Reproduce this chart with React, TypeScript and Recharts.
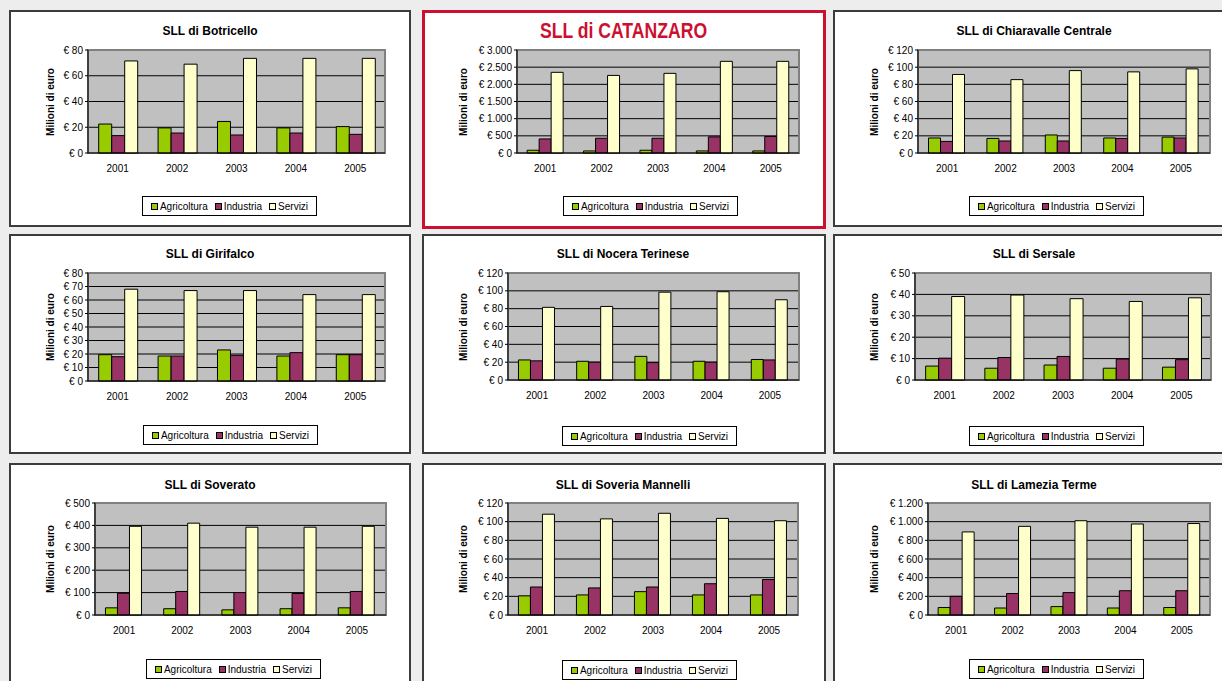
import { BarChart, Bar, XAxis, YAxis, CartesianGrid, ReferenceArea } from 'recharts';

const years = ['2001', '2002', '2003', '2004', '2005'];
const seriesNames = ['Agricoltura', 'Industria', 'Servizi'];
const seriesColors = ['#99cc00', '#993366', '#ffffcc'];

// Botricello
const botricelloAgri = [22.5, 19.5, 24.5, 19.5, 20.5];
const botricelloInd = [13.5, 15.5, 14, 15.5, 14.5];
const botricelloServ = [71.5, 69, 73.5, 73.5, 73.5];
const botricelloTicks = [0, 20, 40, 60, 80];

// Catanzaro
const catanzaroAgri = [80, 60, 80, 60, 60];
const catanzaroInd = [410, 430, 430, 470, 480];
const catanzaroServ = [2350, 2260, 2320, 2670, 2670];
const catanzaroTicks = [0, 500, 1000, 1500, 2000, 2500, 3000];

// Chiaravalle Centrale
const chiaravalleAgri = [17.5, 17, 21, 17.5, 18.5];
const chiaravalleInd = [13.5, 14, 14, 17, 17.5];
const chiaravalleServ = [91.5, 85.5, 96, 94.5, 98];
const chiaravalleTicks = [0, 20, 40, 60, 80, 100, 120];

// Girifalco
const girifalcoAgri = [19.5, 18.5, 23, 18.5, 19.5];
const girifalcoInd = [18, 18.5, 19, 21, 19.5];
const girifalcoServ = [68, 67, 67, 64, 64];
const girifalcoTicks = [0, 10, 20, 30, 40, 50, 60, 70, 80];

// Nocera Terinese
const noceraAgri = [22.5, 21, 26.5, 21, 23];
const noceraInd = [21.5, 20, 19.5, 20, 22.5];
const noceraServ = [81.5, 82.5, 98.5, 99, 90];
const noceraTicks = [0, 20, 40, 60, 80, 100, 120];

// Sersale
const sersaleAgri = [6.5, 5.5, 7, 5.5, 6];
const sersaleInd = [10.2, 10.5, 11, 9.8, 9.5];
const sersaleServ = [39, 39.7, 38, 36.7, 38.4];
const sersaleTicks = [0, 10, 20, 30, 40, 50];

// Soverato
const soveratoAgri = [32, 28, 23, 28, 32];
const soveratoInd = [97, 105, 100, 96, 105];
const soveratoServ = [396, 410, 392, 392, 396];
const soveratoTicks = [0, 100, 200, 300, 400, 500];

// Soveria Mannelli
const soveriaAgri = [20.5, 21.5, 25, 21.5, 21.5];
const soveriaInd = [30, 29, 30, 33.5, 38];
const soveriaServ = [108, 103, 109, 103.5, 101];
const soveriaTicks = [0, 20, 40, 60, 80, 100, 120];

// Lamezia Terme
const lameziaAgri = [80, 75, 90, 75, 80];
const lameziaInd = [200, 230, 240, 260, 260];
const lameziaServ = [890, 950, 1010, 975, 980];
const lameziaTicks = [0, 200, 400, 600, 800, 1000, 1200];

const FONT = "'Liberation Sans', Arial, sans-serif";
const RED = '#cc1030';

const formatEuro = (v: number) => '€ ' + String(v).replace(/\B(?=(\d{3})+(?!\d))/g, '.');

type PanelProps = {
    title: string;
    agri: number[];
    ind: number[];
    serv: number[];
    ticks: number[];
    x: number;
    y: number;
    w: number;
    h: number;
    plot: [number, number, number, number];
    legend: [number, number];
    titleY: number;
    highlight?: boolean;
};

function LegendBox({ left, top }: { left: number; top: number }) {
    return (
        <div
            style={{
                position: 'absolute',
                left,
                top,
                width: 175,
                height: 20,
                border: '1px solid #000',
                background: '#fff',
                boxSizing: 'border-box',
                display: 'flex',
                alignItems: 'center',
                justifyContent: 'center',
                gap: 7,
                fontSize: 10,
                color: '#000',
            }}
        >
            {seriesNames.map((name, i) => (
                <span key={name} style={{ display: 'flex', alignItems: 'center' }}>
                    <span
                        style={{
                            display: 'inline-block',
                            width: 5,
                            height: 5,
                            border: '1px solid #000',
                            background: seriesColors[i],
                            marginRight: 2,
                        }}
                    />
                    {name}
                </span>
            ))}
        </div>
    );
}

function Panel(p: PanelProps) {
    const data = years.map((year, i) => ({
        year,
        agri: p.agri[i],
        ind: p.ind[i],
        serv: p.serv[i],
    }));
    const [pl, pt, pr, pb] = p.plot;
    const yW = 50;
    const xH = 30;
    const max = p.ticks[p.ticks.length - 1];

    return (
        <div style={{ position: 'absolute', left: p.x, top: p.y, width: p.w, height: p.h }}>
            <div
                style={{
                    position: 'absolute',
                    inset: 0,
                    background: '#fff',
                    boxSizing: 'border-box',
                    border: p.highlight ? `3px solid ${RED}` : '2px solid #3c3c3c',
                }}
            />
            <div
                style={{
                    position: 'absolute',
                    left: 0,
                    width: 402,
                    top: p.titleY,
                    transform: 'translateY(-50%)',
                    textAlign: 'center',
                    fontWeight: 'bold',
                    whiteSpace: 'nowrap',
                    fontSize: p.highlight ? 22 : 12,
                    color: p.highlight ? RED : '#000',
                }}
            >
                {/* the highlighted title is a narrow bold face in the original */}
                <span style={{ display: 'inline-block', transform: p.highlight ? 'scaleX(0.8)' : undefined }}>
                    {p.title}
                </span>
            </div>
            <div
                style={{
                    position: 'absolute',
                    left: 41,
                    top: (pt + pb) / 2,
                    transform: 'translate(-50%, -50%) rotate(-90deg)',
                    fontWeight: 'bold',
                    fontSize: 10,
                    whiteSpace: 'nowrap',
                }}
            >
                Milioni di euro
            </div>
            <div style={{ position: 'absolute', left: 0, top: 0 }}>
                <BarChart
                    width={p.w}
                    height={p.h}
                    data={data}
                    margin={{ top: pt, left: pl - yW, right: p.w - pr, bottom: p.h - pb - xH }}
                    barCategoryGap="18%"
                    barGap={0}
                >
                    <CartesianGrid vertical={false} fill="#c0c0c0" fillOpacity={1} stroke="#000" />
                    <ReferenceArea y1={0} y2={max} fill="none" stroke="#808080" strokeWidth={2} />
                    <XAxis
                        dataKey="year"
                        height={xH}
                        tickLine={false}
                        tickSize={5}
                        tickMargin={7}
                        axisLine={{ stroke: '#000' }}
                        tick={{ fontSize: 10, fill: '#000', fontFamily: FONT }}
                    />
                    <YAxis
                        width={yW}
                        domain={[0, max]}
                        ticks={p.ticks}
                        interval={0}
                        tickFormatter={formatEuro}
                        tickSize={3}
                        tickMargin={2}
                        axisLine={{ stroke: '#000' }}
                        tickLine={{ stroke: '#000' }}
                        tick={{ fontSize: 10, fill: '#000', fontFamily: FONT }}
                    />
                    <Bar dataKey="agri" name={seriesNames[0]} fill={seriesColors[0]} stroke="#000" strokeWidth={1} isAnimationActive={false} />
                    <Bar dataKey="ind" name={seriesNames[1]} fill={seriesColors[1]} stroke="#000" strokeWidth={1} isAnimationActive={false} />
                    <Bar dataKey="serv" name={seriesNames[2]} fill={seriesColors[2]} stroke="#000" strokeWidth={1} isAnimationActive={false} />
                </BarChart>
            </div>
            <LegendBox left={p.legend[0]} top={p.legend[1]} />
        </div>
    );
}

export default function App() {
    return (
        <div
            style={{
                position: 'fixed',
                left: 0,
                top: 0,
                width: 1222,
                height: 681,
                background: '#ededed',
                overflow: 'hidden',
                fontFamily: FONT,
                color: '#000',
            }}
        >
            <Panel title="SLL di Botricello" agri={botricelloAgri} ind={botricelloInd} serv={botricelloServ} ticks={botricelloTicks}
                x={9} y={10} w={402} h={217} plot={[79, 40, 376, 143]} legend={[133, 186]} titleY={21} />
            <Panel title="SLL di CATANZARO" agri={catanzaroAgri} ind={catanzaroInd} serv={catanzaroServ} ticks={catanzaroTicks}
                x={422} y={10} w={404} h={219} plot={[95, 40, 377, 143]} legend={[141, 186]} titleY={21} highlight />
            <Panel title="SLL di Chiaravalle Centrale" agri={chiaravalleAgri} ind={chiaravalleInd} serv={chiaravalleServ} ticks={chiaravalleTicks}
                x={833} y={10} w={400} h={217} plot={[85, 40, 377, 143]} legend={[136, 186]} titleY={21} />

            <Panel title="SLL di Girifalco" agri={girifalcoAgri} ind={girifalcoInd} serv={girifalcoServ} ticks={girifalcoTicks}
                x={9} y={234} w={402} h={220} plot={[79, 39, 376, 147]} legend={[134, 191]} titleY={20} />
            <Panel title="SLL di Nocera Terinese" agri={noceraAgri} ind={noceraInd} serv={noceraServ} ticks={noceraTicks}
                x={422} y={234} w={404} h={220} plot={[86, 39, 377, 146]} legend={[140, 192]} titleY={20} />
            <Panel title="SLL di Sersale" agri={sersaleAgri} ind={sersaleInd} serv={sersaleServ} ticks={sersaleTicks}
                x={833} y={234} w={400} h={220} plot={[82, 39, 378, 146]} legend={[136, 192]} titleY={20} />

            <Panel title="SLL di Soverato" agri={soveratoAgri} ind={soveratoInd} serv={soveratoServ} ticks={soveratoTicks}
                x={9} y={463} w={402} h={230} plot={[86, 40, 377, 152]} legend={[137, 196]} titleY={22} />
            <Panel title="SLL di Soveria Mannelli" agri={soveriaAgri} ind={soveriaInd} serv={soveriaServ} ticks={soveriaTicks}
                x={422} y={463} w={404} h={230} plot={[86, 40, 376, 152]} legend={[140, 197]} titleY={22} />
            <Panel title="SLL di Lamezia Terme" agri={lameziaAgri} ind={lameziaInd} serv={lameziaServ} ticks={lameziaTicks}
                x={833} y={463} w={400} h={230} plot={[95, 40, 377, 152]} legend={[136, 196]} titleY={22} />
        </div>
    );
}
